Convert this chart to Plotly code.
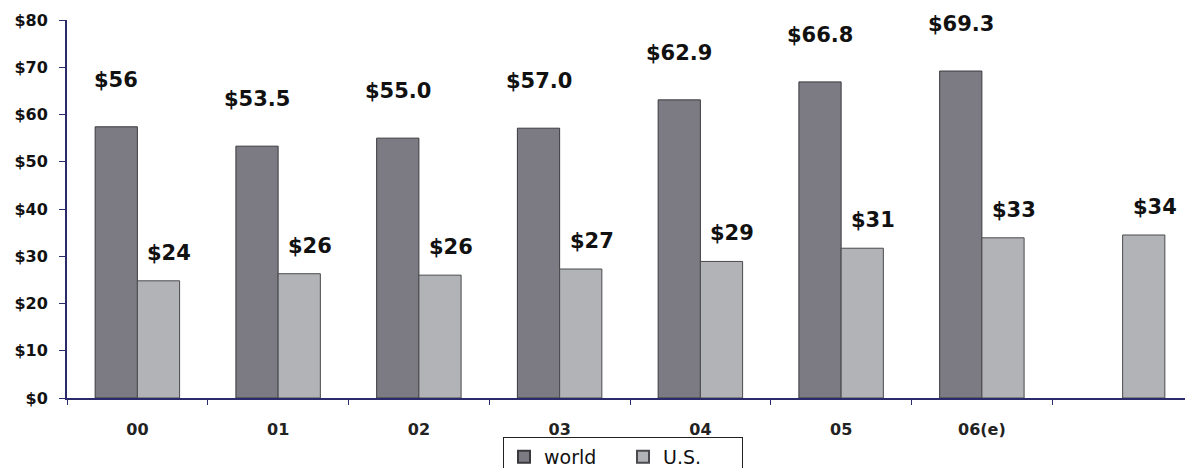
import plotly.graph_objects as go

categories = ["00", "01", "02", "03", "04", "05", "06(e)", " "]
world_values = [57.4, 53.3, 55.0, 57.1, 63.1, 66.9, 69.2, None]
us_values = [24.8, 26.3, 26.0, 27.3, 28.9, 31.7, 33.9, 34.5]
world_labels = ["$56", "$53.5", "$55.0", "$57.0", "$62.9", "$66.8", "$69.3", ""]
us_labels = ["$24", "$26", "$26", "$27", "$29", "$31", "$33", "$34"]
y_ticks = [0, 10, 20, 30, 40, 50, 60, 70, 80]

# the page body adds an 8px offset at top/left
W, H = 1185, 460
ML, MR, MT, MB = 59, 0, 12, 70
BARGAP = 0.40
PLOT_H = H - MT - MB

fig = go.Figure()
fig.add_trace(go.Bar(
    name="world", x=categories, y=world_values,
    marker=dict(color="#7c7b83", line=dict(color="#3a3a3e", width=1)),
))
fig.add_trace(go.Bar(
    name="U.S.", x=categories, y=us_values,
    marker=dict(color="#b1b3b7", line=dict(color="#4a4a4e", width=1)),
))

slot_px = (W - ML - MR) / len(categories)
bar_px = slot_px * (1 - BARGAP) / 2
label_font = dict(family="DejaVu Sans", size=21, color="#111111")
annotations = []
for c, v, t in zip(categories, world_values, world_labels):
    if v is None or not t:
        continue
    annotations.append(dict(x=c, y=v, xref="x", yref="y", text="<b>" + t + "</b>",
                            showarrow=False, xshift=-bar_px / 2, yshift=47,
                            yanchor="middle", font=label_font))
for c, v, t in zip(categories, us_values, us_labels):
    annotations.append(dict(x=c, y=v, xref="x", yref="y", text="<b>" + t + "</b>",
                            showarrow=False, xshift=bar_px / 2 + 11, yshift=28,
                            yanchor="middle", font=label_font))

axis_color = "#2b2b6b"
fig.update_layout(
    width=W, height=H,
    margin=dict(l=ML, r=MR, t=MT, b=MB, pad=0, autoexpand=False),
    paper_bgcolor="white", plot_bgcolor="white",
    barmode="group", bargap=BARGAP, bargroupgap=0,
    showlegend=True,
    legend=dict(orientation="h", x=(495 - ML) / (W - ML - MR), y=-39 / PLOT_H,
                xanchor="left", yanchor="top",
                bordercolor="#222222", borderwidth=1,
                font=dict(family="DejaVu Sans", size=19, color="#111111"),
                entrywidth=74, entrywidthmode="pixels",
                itemsizing="constant", tracegroupgap=0),
    annotations=annotations,
    xaxis=dict(
        type="category", categoryorder="array", categoryarray=categories,
        showline=True, linecolor=axis_color, linewidth=2,
        ticks="outside", tickson="boundaries", ticklen=5, tickcolor=axis_color,
        ticklabelstandoff=16, automargin=False,
        showgrid=False, zeroline=False,
        tickvals=categories,
        ticktext=["<b>" + c + "</b>" if c.strip() else c for c in categories],
        tickfont=dict(family="DejaVu Sans", size=16, color="#222222"),
        range=[-0.5, len(categories) - 0.5],
    ),
    yaxis=dict(
        range=[0, 80], tickvals=y_ticks,
        ticktext=["<b>$%d</b>" % v for v in y_ticks],
        showline=True, linecolor=axis_color, linewidth=2,
        ticks="outside", ticklen=6, tickcolor=axis_color,
        ticklabelstandoff=8, automargin=False,
        showgrid=False, zeroline=False,
        tickfont=dict(family="DejaVu Sans", size=16, color="#111111"),
    ),
)

fig.write_html("out.html")
